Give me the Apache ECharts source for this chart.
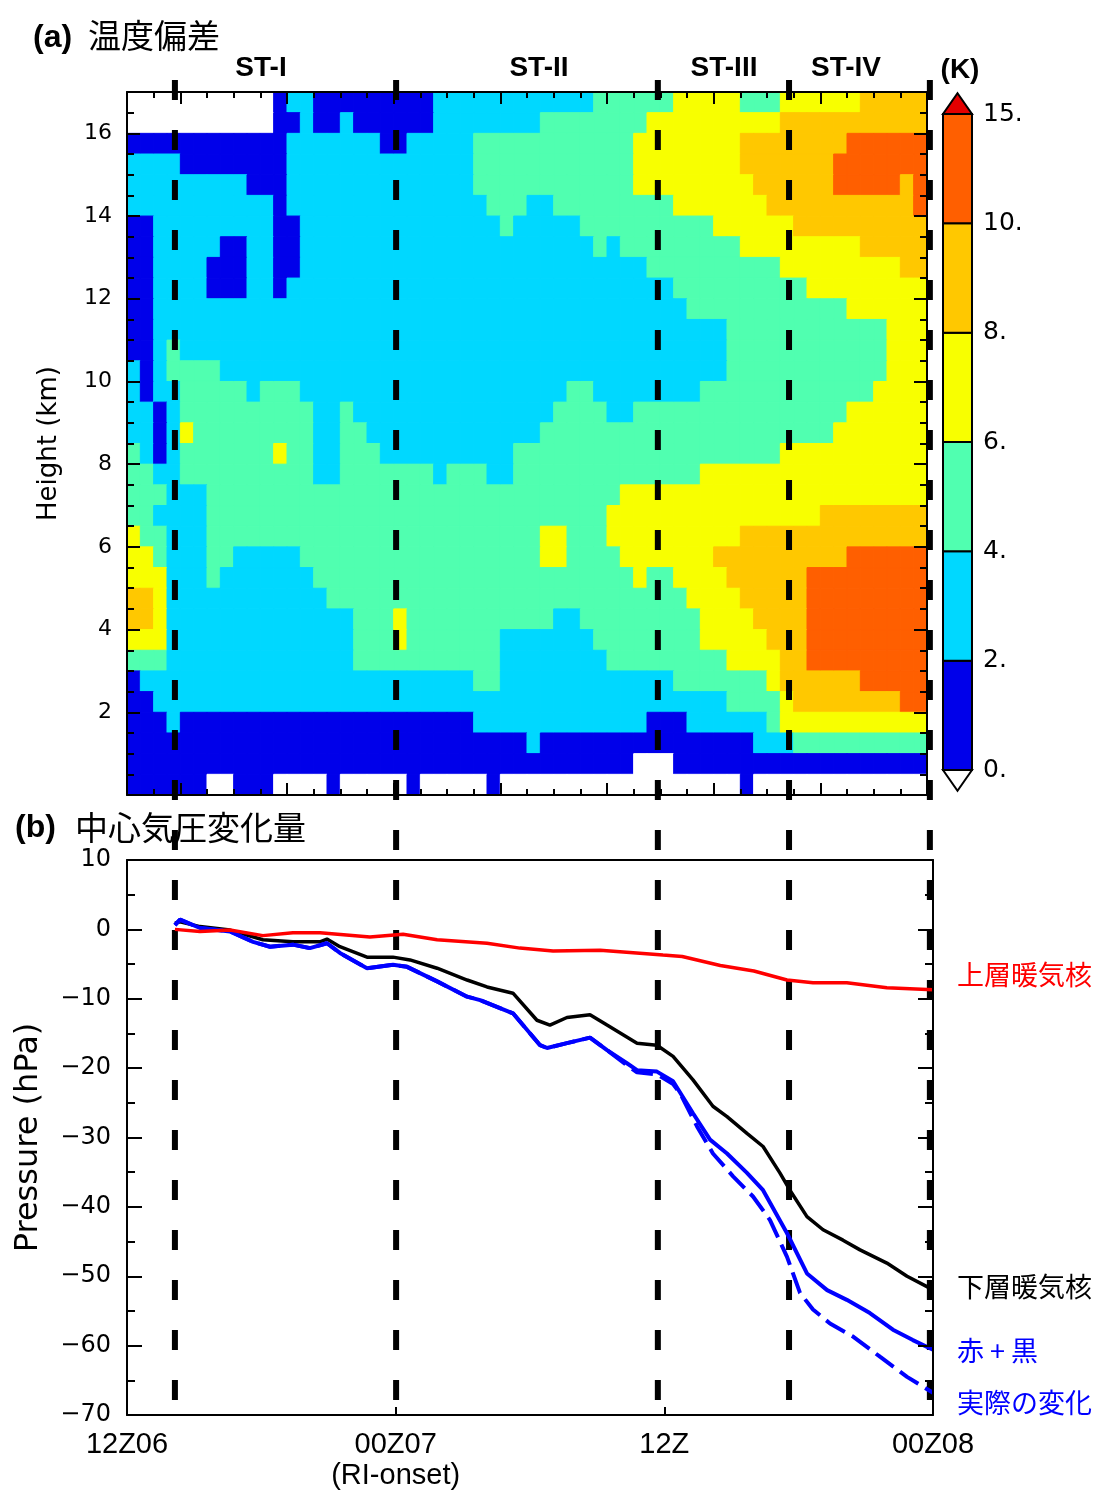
<!DOCTYPE html>
<html>
<head>
<meta charset="utf-8">
<title>温度偏差・中心気圧変化量</title>
<script src="https://cdn.jsdelivr.net/npm/echarts@6/dist/echarts.min.js"></script>
<style>
  html, body { margin: 0; padding: 0; background: #fff; }
  #main { width: 1105px; height: 1495px; }
</style>
</head>
<body>
<div id="main"></div>
<script>
// (a) temperature deviation.
// one digit per cell: 0 <0K, 1 0-2, 2 2-4, 3 4-6, 4 6-8, 5 8-10, 6 10-15
// rows go from 17 km (top) down to 0 km in 0.5 km steps, columns are 0.5 axis units (axis 0-30)
const tempRows = [
  '000000000001221111111112222222222223333334444433344444455555',
  '000000000001121121111112222222233333333444444444455555555555',
  '111111111111222222211222223333333333334444444455555555666666',
  '222211111111222222222222223333333333334444444455555556666666',
  '222222222111222222222222223333333333334444444445555556666656',
  '222222222221222222222222222333223333333334444444555555555556',
  '112222222221122222222222222232222233333333334444445555555555',
  '112222211221122222222222222222222223233333333344444444455555',
  '112222111221122222222222222222222222222333333333344444444455',
  '112222111221222222222222222222222222222223333333333444444444',
  '112222222222222222222222222222222222222222333333333333444444',
  '112222222222222222222222222222222222222222222333333333333444',
  '112322222222222222222222222222222222222222222333333333333444',
  '212333322222222222222222222222222222222222222333333333333444',
  '212233333233322222222222222222222332222222233333333333334444',
  '221233333333332232222222222222223333223333333333333333444444',
  '221243333333332233222222222222233333333333333333333334444444',
  '321233333334332233322222222223333333333333333333344444444444',
  '332233333333332233333332333223333333333333344444444444444444',
  '333222333333333333333333333333333333344444444444444444444444',
  '332222333333333333333333333333333333444444444444444455555555',
  '433222333333333333333333333333344333444444444455555555555555',
  '443222332222233333333333333333344333344444445555555555666666',
  '444222322222223333333333333333333333334334444555555666666666',
  '554222222222222333333333333333333333333333444455555666666666',
  '554222222222222223334333333333332233333333344445555666666666',
  '444222222222222223334333333322222223333333344444555666666666',
  '333222222222222223333333333322222222333333333444455666666666',
  '122222222222222222222222223322222222222223333333455555566666',
  '112222222222222222222222222222222222222222222333345555555566',
  '111211111111111111111111112222222222222111222222344444444444',
  '111111111111111111111111111111211111111111111112223333333333',
  '111111111111111111111111111111111111110001111111111111111111',
  '111111001110000100000100000100000000000000000010000000000000'
];
const classValues = [-1, 1, 3, 5, 7, 9, 12.5];
const levels = [0, 2, 4, 6, 8, 10, 15];
const levelLabels = ['0.', '2.', '4.', '6.', '8.', '10.', '15.'];
const levelColors = ['#0000ea', '#00d8ff', '#50ffb0', '#f8ff00', '#ffc800', '#ff5f00'];
const belowColor = '#ffffff';
const aboveColor = '#e40000';

// stage boundaries, hours after 12Z06
const stageTimes = [2.14, 12.02, 23.71, 29.57, 35.86];

// (b) central pressure change (hPa), hours after 12Z06
const upperHours = [2.14, 3.26, 4.6, 6.07, 7.41, 8.62, 10.85, 12.33, 13.85, 16.08, 17.55, 19.03, 21.13, 23.94, 24.8, 26.5, 28.0, 29.48, 30.64, 32.15, 33.94, 36.0];
const upperHpa = [0, -0.3, -0.1, -0.9, -0.5, -0.5, -1.1, -0.7, -1.5, -2.0, -2.7, -3.1, -3.0, -3.7, -3.9, -5.2, -6.0, -7.3, -7.7, -7.7, -8.4, -8.7];

const lowerHours = [2.14, 2.37, 3.26, 4.6, 6.07, 7.41, 8.04, 8.62, 8.93, 9.51, 10.72, 11.88, 12.64, 13.85, 15.19, 16.08, 17.24, 18.31, 18.89, 19.65, 20.68, 21.44, 22.78, 23.67, 24.39, 25.28, 26.17, 26.8, 27.69, 28.41, 29.16, 29.61, 30.37, 31.09, 31.98, 32.74, 33.94, 34.84, 35.73, 36.0];
const lowerHpa = [0.9, 1.1, 0.4, -0.1, -1.5, -1.8, -1.8, -1.8, -1.4, -2.5, -4.0, -4.0, -4.4, -5.6, -7.3, -8.3, -9.2, -13.1, -13.8, -12.7, -12.3, -13.8, -16.4, -16.7, -18.3, -21.7, -25.5, -27.0, -29.4, -31.3, -35.1, -37.6, -41.4, -43.3, -44.8, -46.2, -48.1, -50.0, -51.5, -52.0];

const sumHours = [2.14, 2.37, 3.26, 4.6, 5.63, 6.39, 7.41, 8.17, 8.93, 9.51, 10.72, 11.88, 12.51, 13.85, 15.19, 15.77, 17.24, 18.45, 18.76, 19.65, 20.68, 21.44, 22.33, 22.78, 23.67, 24.39, 25.28, 26.04, 26.8, 27.69, 28.41, 29.48, 30.37, 31.27, 32.15, 33.18, 34.21, 35.1, 36.0];
const sumHpa = [0.6, 1.4, 0.2, -0.3, -1.8, -2.5, -2.2, -2.7, -2.0, -3.4, -5.6, -5.1, -5.4, -7.5, -9.7, -10.2, -12.1, -16.7, -17.1, -16.4, -15.6, -17.4, -19.3, -20.3, -20.5, -21.9, -26.5, -30.3, -32.3, -35.1, -37.6, -43.8, -49.6, -52.0, -53.4, -55.3, -57.7, -59.2, -60.6];

const actualHours = [2.14, 2.37, 3.26, 4.6, 5.63, 6.39, 7.41, 8.17, 8.93, 9.51, 10.72, 11.88, 12.51, 13.85, 15.19, 15.77, 17.24, 18.45, 18.76, 19.65, 20.68, 21.44, 22.33, 22.78, 23.67, 24.39, 24.7, 25.46, 26.17, 27.07, 27.96, 28.72, 29.48, 30.06, 30.64, 31.4, 32.43, 33.63, 34.84, 36.0];
const actualHpa = [0.6, 1.4, 0.2, -0.3, -1.8, -2.5, -2.2, -2.7, -2.0, -3.4, -5.6, -5.1, -5.4, -7.5, -9.7, -10.2, -12.1, -16.7, -17.1, -16.4, -15.6, -17.4, -19.6, -20.6, -20.9, -22.3, -23.6, -28.4, -32.3, -35.6, -38.5, -41.9, -47.2, -52.4, -54.8, -56.8, -58.7, -61.6, -64.5, -66.8];

const timeTicks = [0, 12, 24, 36];
const timeLabels = ['12Z06', '00Z07\n(RI-onset)', '12Z', '00Z08'];

const LATIN = '"DejaVu Sans", sans-serif';
const HELV = '"Liberation Sans", Arial, sans-serif';
const CJK = '"Noto Sans CJK JP", sans-serif';

const cellW = 0.5, cellH = 0.5;
const fieldData = [];
tempRows.forEach((row, r) => {
  const y0 = (tempRows.length - 1 - r) * cellH;
  for (let c = 0; c < row.length; c++) {
    fieldData.push([c * cellW, y0, classValues[+row[c]]]);
  }
});

function colorOf(v) {
  if (v < levels[0]) return belowColor;
  if (v >= levels[levels.length - 1]) return aboveColor;
  for (let k = 0; k < levels.length - 1; k++) {
    if (v < levels[k + 1]) return levelColors[k];
  }
  return aboveColor;
}

const zip = (xs, ys) => xs.map((x, i) => [x, ys[i]]);
const minus = v => (v < 0 ? '\u2212' + (-v) : String(v));

const black = {color: '#000', width: 2};

function tickAxis(extra) {
  return Object.assign({
    type: 'value', z: 5, axisLine: {show: false, onZero: false},
    axisTick: {show: false}, axisLabel: {show: false}, splitLine: {show: false}
  }, extra);
}

const chart = echarts.init(document.getElementById('main'));

const option = {
  animation: false,
  backgroundColor: '#fff',
  textStyle: {fontFamily: LATIN, color: '#000'},
  grid: [
    {left: 127, top: 92, width: 800, height: 703, outerBoundsMode: 'none', containLabel: false},
    {left: 943, top: 114, width: 29, height: 656, outerBoundsMode: 'none', containLabel: false},
    {left: 127, top: 860, width: 806, height: 555, outerBoundsMode: 'none', containLabel: false},
    {left: 127, top: 80, width: 806, height: 1330, outerBoundsMode: 'none', containLabel: false}
  ],
  xAxis: [
    // top panel: major + minor ticks, bottom and top edges
    tickAxis({gridIndex: 0, position: 'bottom', min: 0, max: 30,
      axisLine: {show: true, onZero: false, lineStyle: black},
      axisTick: {show: true, inside: true, length: 12, customValues: [2, 6, 10, 14, 18, 22, 26], lineStyle: black}}),
    tickAxis({gridIndex: 0, position: 'bottom', min: 0, max: 30, interval: 1,
      axisTick: {show: true, inside: true, length: 6, lineStyle: black}}),
    tickAxis({gridIndex: 0, position: 'top', min: 0, max: 30,
      axisLine: {show: true, onZero: false, lineStyle: black},
      axisTick: {show: true, inside: true, length: 12, customValues: [2, 6, 10, 14, 18, 22, 26], lineStyle: black}}),
    tickAxis({gridIndex: 0, position: 'top', min: 0, max: 30, interval: 1,
      axisTick: {show: true, inside: true, length: 6, lineStyle: black}}),
    // colour bar
    tickAxis({gridIndex: 1, min: 0, max: 1, show: false}),
    // bottom panel
    tickAxis({gridIndex: 2, position: 'bottom', min: 0, max: 36,
      axisLine: {show: true, onZero: false, lineStyle: black},
      axisTick: {show: true, inside: true, length: 8, customValues: [12, 24], lineStyle: black},
      axisLabel: {show: true, customValues: timeTicks, margin: 14, fontFamily: HELV, fontSize: 29,
        lineHeight: 31, color: '#000', formatter: v => timeLabels[timeTicks.indexOf(v)]}}),
    tickAxis({gridIndex: 2, position: 'top', min: 0, max: 36,
      axisLine: {show: true, onZero: false, lineStyle: black}}),
    // stage boundary layer
    tickAxis({gridIndex: 3, min: 0, max: 36, show: false})
  ],
  yAxis: [
    tickAxis({gridIndex: 0, position: 'left', min: 0, max: 17, interval: 2,
      name: 'Height (km)', nameLocation: 'middle', nameGap: 65, nameRotate: 90,
      nameTextStyle: {fontFamily: LATIN, fontSize: 26, color: '#000'},
      axisLine: {show: true, onZero: false, lineStyle: black},
      axisTick: {show: true, inside: true, length: 13, lineStyle: black},
      minorTick: {show: true, splitNumber: 4, length: 7, lineStyle: black},
      axisLabel: {show: true, customValues: [2, 4, 6, 8, 10, 12, 14, 16], margin: 15,
        fontFamily: LATIN, fontSize: 22, color: '#000'}}),
    tickAxis({gridIndex: 0, position: 'right', min: 0, max: 17, interval: 2,
      axisLine: {show: true, onZero: false, lineStyle: black},
      axisTick: {show: true, inside: true, length: 13, lineStyle: black},
      minorTick: {show: true, splitNumber: 4, length: 7, lineStyle: black}}),
    tickAxis({gridIndex: 1, position: 'right', min: 0, max: 6, interval: 1,
      axisLabel: {show: true, margin: 11, fontFamily: LATIN, fontSize: 25, color: '#000',
        formatter: v => levelLabels[v]}}),
    tickAxis({gridIndex: 2, position: 'left', min: -70, max: 10, interval: 10,
      name: 'Pressure (hPa)', nameLocation: 'middle', nameGap: 82, nameRotate: 90,
      nameTextStyle: {fontFamily: LATIN, fontSize: 32, color: '#000'},
      axisLine: {show: true, onZero: false, lineStyle: black},
      axisTick: {show: true, inside: true, length: 15, lineStyle: black},
      minorTick: {show: true, splitNumber: 2, length: 8, lineStyle: black},
      axisLabel: {show: true, margin: 16, fontFamily: LATIN, fontSize: 24, color: '#000', formatter: minus}}),
    tickAxis({gridIndex: 2, position: 'right', min: -70, max: 10, interval: 10,
      axisLine: {show: true, onZero: false, lineStyle: black},
      axisTick: {show: true, inside: true, length: 15, lineStyle: black},
      minorTick: {show: true, splitNumber: 2, length: 8, lineStyle: black}}),
    tickAxis({gridIndex: 3, min: 0, max: 1, show: false})
  ],
  graphic: [
    {type: 'text', x: 33, y: 38, style: {text: '(a)', font: 'bold 32px ' + HELV, fill: '#000', verticalAlign: 'middle', textVerticalAlign: 'middle'}},
    {type: 'text', x: 88, y: 35, style: {text: '温度偏差', font: '33px ' + CJK, fill: '#000', verticalAlign: 'middle', textVerticalAlign: 'middle'}},
    {type: 'text', x: 15, y: 828, style: {text: '(b)', font: 'bold 32px ' + HELV, fill: '#000', verticalAlign: 'middle', textVerticalAlign: 'middle'}},
    {type: 'text', x: 75, y: 827, style: {text: '中心気圧変化量', font: '33px ' + CJK, fill: '#000', verticalAlign: 'middle', textVerticalAlign: 'middle'}},
    {type: 'text', x: 261, y: 68, style: {text: 'ST-I', font: 'bold 28px ' + HELV, fill: '#000', align: 'center', textAlign: 'center', verticalAlign: 'middle', textVerticalAlign: 'middle'}},
    {type: 'text', x: 539, y: 68, style: {text: 'ST-II', font: 'bold 28px ' + HELV, fill: '#000', align: 'center', textAlign: 'center', verticalAlign: 'middle', textVerticalAlign: 'middle'}},
    {type: 'text', x: 724, y: 68, style: {text: 'ST-III', font: 'bold 28px ' + HELV, fill: '#000', align: 'center', textAlign: 'center', verticalAlign: 'middle', textVerticalAlign: 'middle'}},
    {type: 'text', x: 846, y: 68, style: {text: 'ST-IV', font: 'bold 28px ' + HELV, fill: '#000', align: 'center', textAlign: 'center', verticalAlign: 'middle', textVerticalAlign: 'middle'}},
    {type: 'text', x: 960, y: 70, style: {text: '(K)', font: 'bold 28px ' + HELV, fill: '#000', align: 'center', textAlign: 'center', verticalAlign: 'middle', textVerticalAlign: 'middle'}}
  ],
  series: [
    {
      type: 'custom', name: 'field', xAxisIndex: 0, yAxisIndex: 0, z: 2,
      data: fieldData, encode: {x: 0, y: 1},
      renderItem(params, api) {
        const x0 = api.value(0), y0 = api.value(1);
        const p0 = api.coord([x0, y0 + cellH]);
        const p1 = api.coord([x0 + cellW, y0]);
        const col = colorOf(api.value(2));
        return {type: 'rect', shape: {x: p0[0], y: p0[1], width: p1[0] - p0[0], height: p1[1] - p0[1]},
          style: {fill: col, stroke: col, lineWidth: 1}};
      }
    },
    {
      type: 'custom', name: 'colorbar', xAxisIndex: 4, yAxisIndex: 2, z: 2,
      data: levelColors.map((c, i) => [0, i]), encode: {x: 0, y: 1},
      renderItem(params, api) {
        const i = api.value(1);
        const p0 = api.coord([0, i + 1]);
        const p1 = api.coord([1, i]);
        return {type: 'rect', shape: {x: p0[0], y: p0[1], width: p1[0] - p0[0], height: p1[1] - p0[1]},
          style: {fill: levelColors[i], stroke: '#000', lineWidth: 2}};
      }
    },
    {
      type: 'custom', name: 'colorbar-ends', xAxisIndex: 4, yAxisIndex: 2, z: 2,
      data: [[0, 6, 1], [0, 0, -1]], encode: {x: 0, y: 1},
      renderItem(params, api) {
        const base = api.value(1), dir = api.value(2);
        const pts = [api.coord([0, base]), api.coord([1, base]), api.coord([0.5, base + dir * 0.19])];
        return {type: 'polygon', shape: {points: pts},
          style: {fill: dir > 0 ? aboveColor : belowColor, stroke: '#000', lineWidth: 2}};
      }
    },
    {
      type: 'custom', name: 'stages', xAxisIndex: 7, yAxisIndex: 5, z: 3,
      data: stageTimes.map(t => [t, 0]), encode: {x: 0, y: 1},
      renderItem(params, api) {
        const t = api.value(0);
        const a = api.coord([t, 1]);
        const b = api.coord([t, 0]);
        return {type: 'line', shape: {x1: a[0], y1: a[1], x2: b[0], y2: b[1]},
          style: {stroke: '#000', lineWidth: 6, lineDash: [20, 30]}};
      }
    },
    {
      type: 'line', name: '下層暖気核', xAxisIndex: 5, yAxisIndex: 3, z: 4,
      data: zip(lowerHours, lowerHpa), symbol: 'none',
      lineStyle: {color: '#000', width: 3.5},
      endLabel: {show: true, formatter: '下層暖気核', distance: 24, offset: [0, -3],
        fontFamily: CJK, fontSize: 27, color: '#000'}
    },
    {
      type: 'line', name: '実際の変化', xAxisIndex: 5, yAxisIndex: 3, z: 4,
      data: zip(actualHours, actualHpa), symbol: 'none',
      lineStyle: {color: '#0000ff', width: 4, type: [22, 8]},
      endLabel: {show: true, formatter: '実際の変化', distance: 24, offset: [0, 10],
        fontFamily: CJK, fontSize: 27, color: '#0000ff'}
    },
    {
      type: 'line', name: '赤 + 黒', xAxisIndex: 5, yAxisIndex: 3, z: 4,
      data: zip(sumHours, sumHpa), symbol: 'none',
      lineStyle: {color: '#0000ff', width: 4},
      endLabel: {show: true, formatter: '赤 + 黒', distance: 24, offset: [0, 1],
        fontFamily: CJK, fontSize: 27, color: '#0000ff'}
    },
    {
      type: 'line', name: '上層暖気核', xAxisIndex: 5, yAxisIndex: 3, z: 4,
      data: zip(upperHours, upperHpa), symbol: 'none',
      lineStyle: {color: '#ff0000', width: 3.5},
      endLabel: {show: true, formatter: '上層暖気核', distance: 24, offset: [0, -15],
        fontFamily: CJK, fontSize: 27, color: '#ff0000'}
    }
  ]
};

chart.setOption(option);
</script>
</body>
</html>
